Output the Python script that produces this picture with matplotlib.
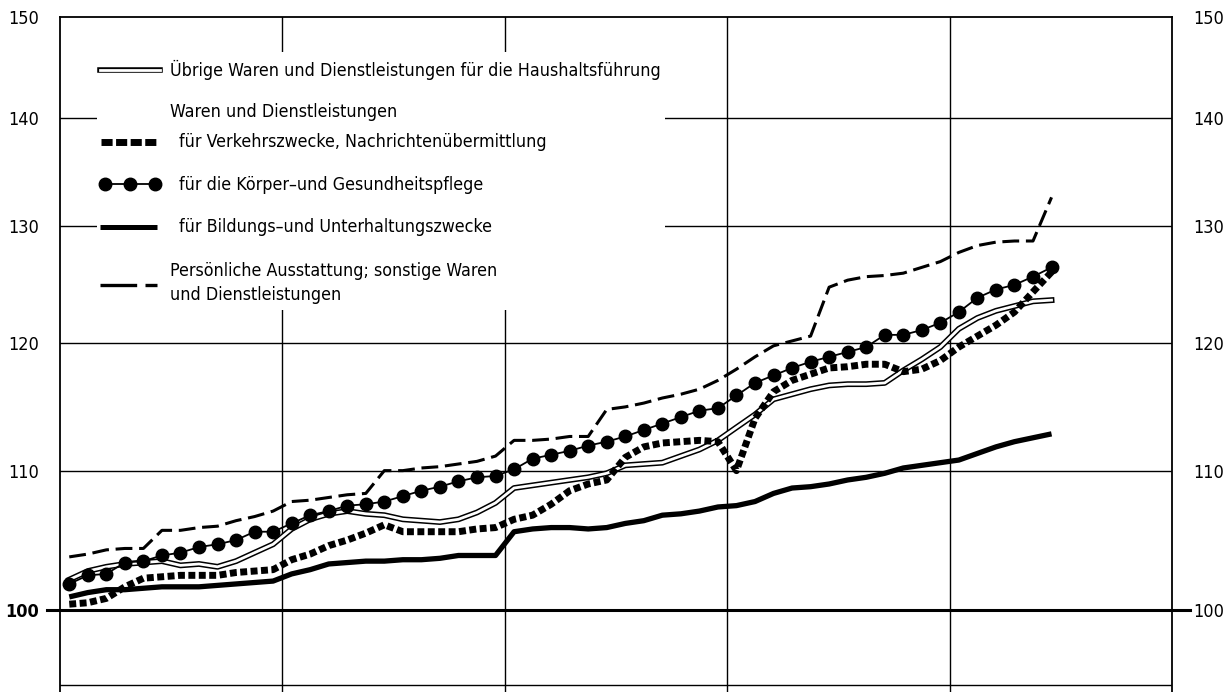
import matplotlib
matplotlib.use('Agg')
import matplotlib.pyplot as plt
from matplotlib import font_manager
from matplotlib.ticker import NullLocator
from matplotlib.patches import Rectangle
from matplotlib.lines import Line2D

# Monatliche Indexwerte (Basis = 100), 54 Monate ab Januar des ersten Jahres
haushalt = [102.1, 102.7, 103.0, 103.2, 103.3, 103.4, 103.1, 103.2, 103.0, 103.4, 104.0, 104.6,
            105.7, 106.4, 106.8, 107.0, 106.8, 106.7, 106.4, 106.3, 106.2, 106.4, 106.9, 107.6,
            108.7, 108.9, 109.1, 109.3, 109.5, 109.8, 110.4, 110.5, 110.6, 111.1, 111.6, 112.3,
            113.3, 114.3, 115.5, 115.9, 116.3, 116.6, 116.7, 116.7, 116.8, 117.8, 118.7, 119.7,
            121.2, 122.1, 122.7, 123.1, 123.5, 123.6]
verkehr = [100.4, 100.5, 100.8, 101.6, 102.2, 102.3, 102.4, 102.4, 102.4, 102.6, 102.7, 102.8,
           103.5, 103.9, 104.5, 104.9, 105.4, 106.0, 105.5, 105.5, 105.5, 105.5, 105.7, 105.8,
           106.4, 106.7, 107.5, 108.5, 109.0, 109.3, 111.0, 111.8, 112.1, 112.2, 112.3, 112.2,
           110.0, 114.0, 116.1, 117.0, 117.5, 118.0, 118.1, 118.3, 118.3, 117.7, 117.9, 118.6,
           119.7, 120.6, 121.5, 122.6, 124.3, 126.0]
koerper = [101.8, 102.4, 102.5, 103.3, 103.4, 103.8, 104.0, 104.4, 104.6, 104.9, 105.5, 105.5,
           106.1, 106.7, 107.0, 107.4, 107.5, 107.7, 108.1, 108.5, 108.8, 109.2, 109.5, 109.6,
           110.1, 110.9, 111.2, 111.5, 111.9, 112.2, 112.6, 113.1, 113.6, 114.1, 114.6, 114.8,
           115.8, 116.8, 117.4, 118.0, 118.5, 118.9, 119.3, 119.7, 120.7, 120.7, 121.1, 121.7,
           122.6, 123.8, 124.5, 124.9, 125.6, 126.4]
bildung = [100.9, 101.2, 101.4, 101.4, 101.5, 101.6, 101.6, 101.6, 101.7, 101.8, 101.9, 102.0,
           102.5, 102.8, 103.2, 103.3, 103.4, 103.4, 103.5, 103.5, 103.6, 103.8, 103.8, 103.8,
           105.5, 105.7, 105.8, 105.8, 105.7, 105.8, 106.1, 106.3, 106.7, 106.8, 107.0, 107.3,
           107.4, 107.7, 108.3, 108.7, 108.8, 109.0, 109.3, 109.5, 109.8, 110.2, 110.4, 110.6,
           110.8, 111.3, 111.8, 112.2, 112.5, 112.8]
persoenlich = [103.7, 103.9, 104.2, 104.3, 104.3, 105.6, 105.6, 105.8, 105.9, 106.3, 106.6, 107.0,
               107.7, 107.8, 108.0, 108.2, 108.3, 110.0, 110.0, 110.2, 110.3, 110.5, 110.7, 111.1,
               112.3, 112.3, 112.4, 112.6, 112.6, 114.7, 114.9, 115.2, 115.6, 115.9, 116.3, 117.0,
               117.9, 118.9, 119.8, 120.2, 120.6, 124.7, 125.3, 125.6, 125.7, 125.9, 126.4, 126.9,
               127.7, 128.3, 128.6, 128.7, 128.7, 132.6]

y_ticks = [100, 110, 120, 130, 140, 150]
y_tick_labels = ['100', '110', '120', '130', '140', '150']
h_lines = [95, 110, 120, 130, 140]
year_lines = [12, 24, 36, 48]

W, H = 1224, 692

names = {f.name for f in font_manager.fontManager.ttflist}
if 'Liberation Sans Narrow' in names:
    font = dict(family='Liberation Sans Narrow')
else:
    font = dict(family='DejaVu Sans', stretch='condensed')
plt.rcParams['font.family'] = font['family']
if 'stretch' in font:
    plt.rcParams['font.stretch'] = font['stretch']


def px(x, y):
    # pixel position -> figure fraction
    return x / W, 1 - y / H


def sym(xs, ys, color='k', **kw):
    # legend symbol in pixel coordinates
    fx = [x / W for x in xs]
    fy = [1 - y / H for y in ys]
    fig.add_artist(Line2D(fx, fy, transform=fig.transFigure, color=color, **kw))


fig = plt.figure(figsize=(W / 100, H / 100), dpi=100)
ax = fig.add_axes([60 / W, 0, 1112 / W, 675 / H])
ax.set_yscale('log')
ax.set_xlim(0, 60)
ax.set_ylim(94.55, 150)

for s in ['top', 'left', 'right']:
    ax.spines[s].set_linewidth(1.3)
ax.spines['bottom'].set_visible(False)

ax.set_xticks([])
ax.set_yticks(y_ticks)
ax.set_yticklabels(y_tick_labels)
ax.yaxis.set_minor_locator(NullLocator())
ax.tick_params(axis='y', length=0, pad=15, labelsize=13, labelleft=True, labelright=True)
ax.get_yticklabels()[0].set_fontweight('bold')

for v in h_lines:
    ax.axhline(v, color='k', lw=1.0, zorder=1)
ax.axhline(100, xmin=-13 / 1112, xmax=1 + 18 / 1112, color='k', lw=2.2, zorder=1, clip_on=False)
for m in year_lines:
    ax.axvline(m, color='k', lw=1.0, zorder=1)

# white area behind the legend
x0, y0 = px(97, 310)
x1, y1 = px(665, 52)
ax.add_patch(Rectangle((x0, y0), x1 - x0, y1 - y0, transform=fig.transFigure,
                       facecolor='white', edgecolor='none', zorder=2))

months = [i + 0.5 for i in range(len(koerper))]

ax.plot(months, haushalt, color='k', lw=4.2, solid_joinstyle='round', zorder=3)
ax.plot(months, haushalt, color='white', lw=2.0, solid_joinstyle='round', zorder=3)
ax.plot(months, bildung, color='k', lw=3.8, solid_capstyle='butt', zorder=4)
ax.plot(months, verkehr, color='k', lw=5, linestyle=(0, (1, 0.5)), dash_capstyle='butt', zorder=5)
ax.plot(months, persoenlich, color='k', lw=2.2, linestyle=(0, (5.5, 2.2)), dash_capstyle='butt', zorder=5)
ax.plot(months, koerper, color='k', lw=1.3, marker='o', ms=9, zorder=6)

# legend drawn by hand
sym([100, 160], [70, 70], lw=4.0)
sym([100, 160], [70, 70], color='white', lw=2.0)
sym([101, 157], [142, 142], lw=5, linestyle=(0, (1.6, 0.5)), dash_capstyle='butt')
sym([105, 130, 155], [184, 184, 184], lw=1.3, marker='o', ms=9)
sym([100, 157], [227, 227], lw=3.6, solid_capstyle='butt')
sym([100, 157], [285, 285], lw=2.4, linestyle=(0, (11, 2.5)), dash_capstyle='butt')

texts = [
    (170, 70, 'Übrige Waren und Dienstleistungen für die Haushaltsführung'),
    (170, 112, 'Waren und Dienstleistungen'),
    (179, 142, 'für Verkehrszwecke, Nachrichtenübermittlung'),
    (179, 185, 'für die Körper–und Gesundheitspflege'),
    (179, 227, 'für Bildungs–und Unterhaltungszwecke'),
    (170, 271, 'Persönliche Ausstattung; sonstige Waren'),
    (170, 295, 'und Dienstleistungen'),
]
for x, y, t in texts:
    fx, fy = px(x, y)
    fig.text(fx, fy, t, ha='left', va='center', fontsize=12.8, **font)

fig.savefig('out.png', dpi=100)
